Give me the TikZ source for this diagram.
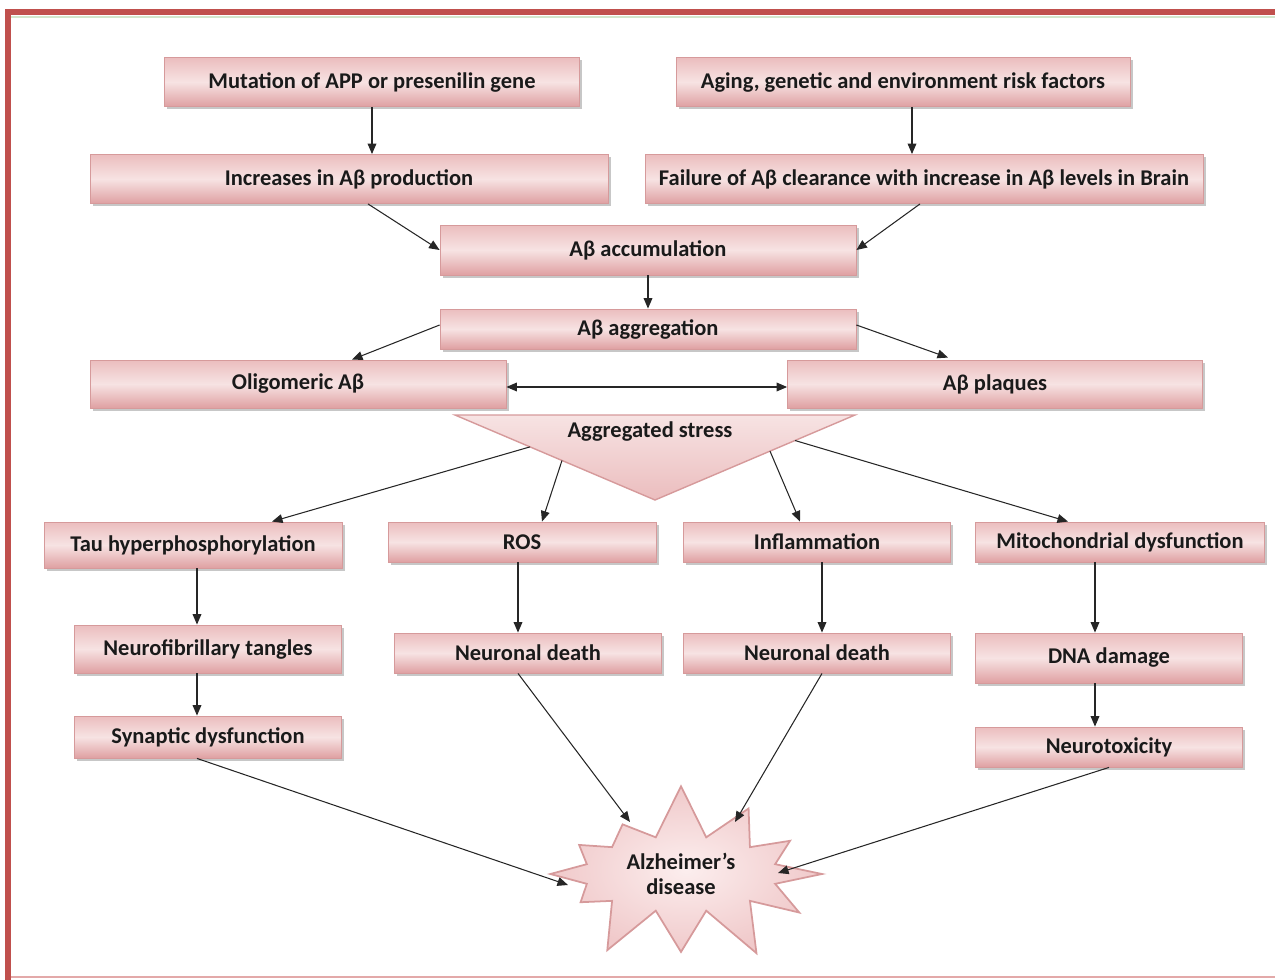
\documentclass[tikz,border=0pt]{standalone}
\usepackage{fontspec}
\setmainfont{Carlito}
\usetikzlibrary{calc, arrows.meta, shadows, shapes.symbols}
\definecolor{color_frame}{HTML}{C0504D}
\definecolor{color_frame_thin}{HTML}{E3A9A9}
\definecolor{color_rule}{HTML}{D3E6CC}
\definecolor{color_box_top}{HTML}{EBBDBE}
\definecolor{color_box_mid}{HTML}{F7E3E3}
\definecolor{color_box_bot}{HTML}{DFA0A2}
\definecolor{color_box_edge}{HTML}{D69A9B}
\definecolor{color_star_in}{HTML}{FCEEEE}
\definecolor{color_star_out}{HTML}{F0C9CA}
\definecolor{color_text}{HTML}{1A1A1A}
\definecolor{color_line}{HTML}{262626}
\newcommand{\flowfont}{\bfseries\fontsize{12.8}{14.5}\selectfont}
\tikzset{
  flow_box/.style={draw=color_box_edge, line width=0.5pt, top color=color_box_top, bottom color=color_box_bot, middle color=color_box_mid, font=\flowfont, text=color_text, inner sep=2pt, drop shadow={shadow xshift=1.6pt, shadow yshift=-1.6pt, fill=black, opacity=0.22}},
  stress_shape/.style={draw=color_box_edge, line width=0.8pt, top color=color_box_mid, bottom color=color_box_top},
  burst_node/.style={starburst, starburst points=12, starburst point height=1.1cm, random starburst=7, draw=color_box_edge, line width=1pt, inner color=color_star_in, outer color=color_star_out, font=\flowfont, text=color_text, align=center},
  flow_arrow/.style={-{Triangle[length=6pt, width=5pt]}, draw=color_line, line width=0.6pt},
  frame_line/.style={draw=color_frame, line width=3pt},
}

\begin{document}
\begin{tikzpicture}[x=0.02cm, y=-0.02cm]
    \useasboundingbox (0,0) rectangle (1275,980);

    % frame
    \draw[color_rule, line width=1pt] (10,17) -- (1275,17);
    \draw[color_frame_thin, line width=1pt] (10,977) -- (1275,977);
    \draw[frame_line] (8,980) -- (8,12) -- (1275,12);

    % causes
    \node[flow_box, minimum width=8.3cm, minimum height=0.98cm] (mut) at (372,82) {Mutation of APP or presenilin gene};
    \node[flow_box, minimum width=9.08cm, minimum height=0.98cm] (aging) at (903,82) {Aging, genetic and environment risk factors};
    \node[flow_box, minimum width=10.36cm, minimum height=0.98cm] (incr) at (349,179) {Increases in Aβ production};
    \node[flow_box, minimum width=11.16cm, minimum height=0.98cm] (fail) at (924,179) {Failure of Aβ clearance with increase in Aβ levels in Brain};

    % amyloid
    \node[flow_box, minimum width=8.32cm, minimum height=1cm] (accum) at (648,250) {Aβ accumulation};
    \node[flow_box, minimum width=8.32cm, minimum height=0.8cm] (aggr) at (648,329) {Aβ aggregation};
    \node[flow_box, minimum width=8.32cm, minimum height=0.96cm] (olig) at (298,384) {Oligomeric Aβ};
    \node[flow_box, minimum width=8.3cm, minimum height=0.96cm] (plaq) at (995,384) {Aβ plaques};

    % stress
    \coordinate (tri_l) at (455,415);
    \coordinate (tri_r) at (855,415);
    \coordinate (tri_b) at (655,500);
    \draw[stress_shape] (tri_l) -- (tri_r) -- (tri_b) -- cycle;
    \node[font=\flowfont, text=color_text] (stress) at (650,432) {Aggregated stress};

    % pathways
    \node[flow_box, minimum width=5.96cm, minimum height=0.92cm] (tau) at (193,545) {Tau hyperphosphorylation};
    \node[flow_box, minimum width=5.36cm, minimum height=0.8cm] (ros) at (522,542) {ROS};
    \node[flow_box, minimum width=5.34cm, minimum height=0.8cm] (infl) at (817,542) {Inflammation};
    \node[flow_box, minimum width=5.78cm, minimum height=0.8cm] (mito) at (1120,542) {Mitochondrial dysfunction};

    \node[flow_box, minimum width=5.34cm, minimum height=0.96cm] (tangle) at (208,649) {Neurofibrillary tangles};
    \node[flow_box, minimum width=5.34cm, minimum height=0.8cm] (death_a) at (528,653) {Neuronal death};
    \node[flow_box, minimum width=5.34cm, minimum height=0.8cm] (death_b) at (817,653) {Neuronal death};
    \node[flow_box, minimum width=5.34cm, minimum height=1cm] (dna) at (1109,658) {DNA damage};

    \node[flow_box, minimum width=5.34cm, minimum height=0.84cm] (syn) at (208,737) {Synaptic dysfunction};
    \node[flow_box, minimum width=5.34cm, minimum height=0.8cm] (tox) at (1109,747) {Neurotoxicity};

    \node[burst_node, minimum width=6.1cm, minimum height=3.7cm] (ad) at (681,874) {Alzheimer’s\\disease};

    % arrows
    \draw[flow_arrow] (mut.south) -- (mut.south |- incr.north);
    \draw[flow_arrow] ($(aging.south)+(9,0)$) -- ($(aging.south |- fail.north)+(9,0)$);
    \draw[flow_arrow] ($(incr.south)+(19,0)$) -- (accum.west);
    \draw[flow_arrow] ($(fail.south)+(-4,0)$) -- (accum.east);
    \draw[flow_arrow] (accum.south) -- (aggr.north);
    \draw[flow_arrow] ($(aggr.west)+(0,-4)$) -- ($(olig.north)+(54,0)$);
    \draw[flow_arrow] ($(aggr.east)+(0,-4)$) -- ($(plaq.north)+(-47,-2)$);
    \draw[flow_arrow, {Triangle[length=6pt, width=5pt]}-{Triangle[length=6pt, width=5pt]}] ($(olig.east)+(0,3)$) -- ($(plaq.west)+(0,3)$);

    \draw[flow_arrow] ($(tri_l)!0.375!(tri_b)$) -- ($(tau.north)+(79,0)$);
    \draw[flow_arrow] ($(tri_l)!0.535!(tri_b)$) -- ($(ros.north)+(20,0)$);
    \draw[flow_arrow] ($(tri_r)!0.425!(tri_b)$) -- ($(infl.north)+(-17,0)$);
    \draw[flow_arrow] ($(tri_r)!0.3!(tri_b)$) -- ($(mito.north)+(-52,0)$);

    \draw[flow_arrow] ($(tau.south)+(4,0)$) -- ($(tau.south |- tangle.north)+(4,0)$);
    \draw[flow_arrow] ($(tangle.south)+(-11,0)$) -- ($(syn.north)+(-11,0)$);
    \draw[flow_arrow] ($(ros.south)+(-4,0)$) -- ($(ros.south |- death_a.north)+(-4,0)$);
    \draw[flow_arrow] ($(infl.south)+(5,0)$) -- ($(infl.south |- death_b.north)+(5,0)$);
    \draw[flow_arrow] ($(mito.south)+(-25,0)$) -- ($(mito.south |- dna.north)+(-25,0)$);
    \draw[flow_arrow] ($(dna.south)+(-14,0)$) -- ($(tox.north)+(-14,0)$);

    \draw[flow_arrow] ($(syn.south)+(-11,0)$) -- ($(ad.center)+(-113,11)$);
    \draw[flow_arrow] ($(death_a.south)+(-10,0)$) -- ($(ad.center)+(-51,-52)$);
    \draw[flow_arrow] ($(death_b.south)+(5,0)$) -- ($(ad.center)+(54,-52)$);
    \draw[flow_arrow] (tox.south) -- ($(ad.center)+(97,-1)$);
\end{tikzpicture}
\end{document}
